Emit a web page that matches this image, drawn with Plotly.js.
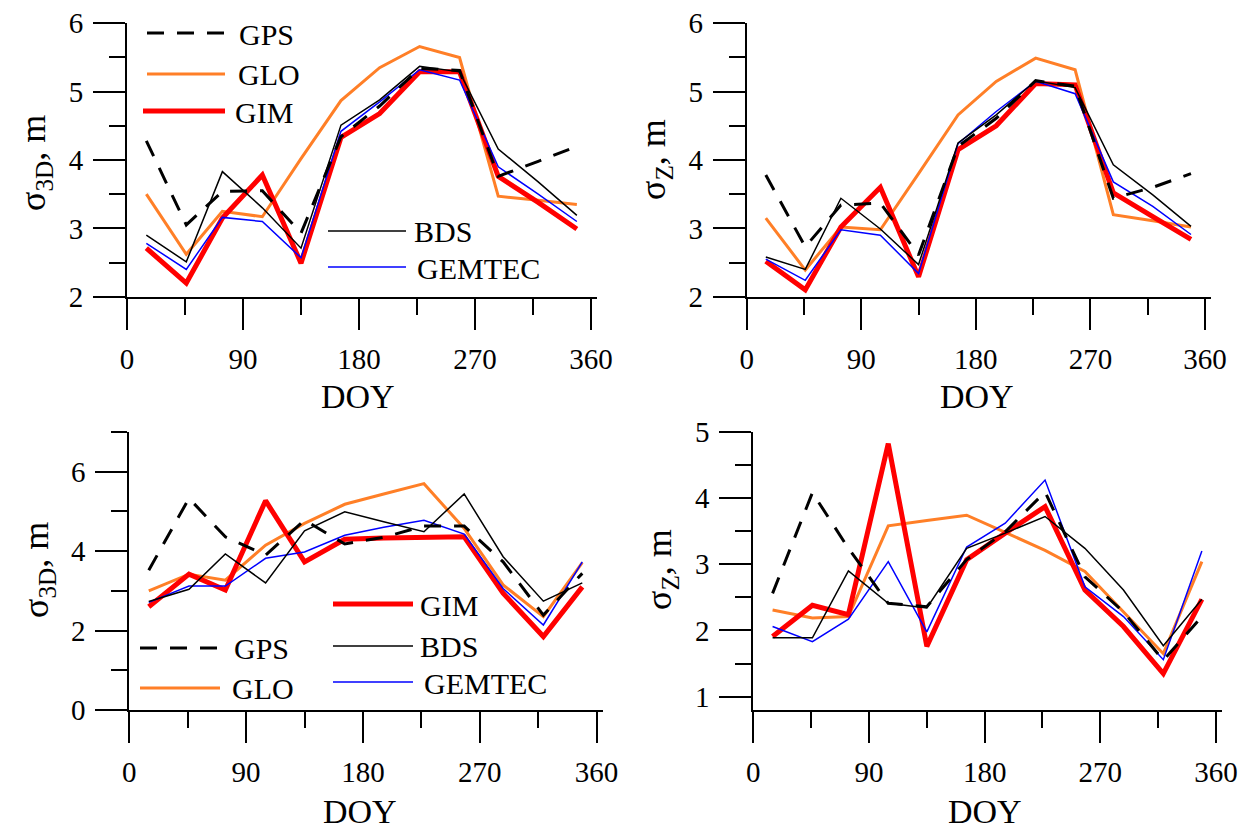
<!DOCTYPE html>
<html>
<head>
<meta charset="utf-8">
<script src="https://cdn.plot.ly/plotly-3.0.1.min.js"></script>
<style>html,body{margin:0;padding:0;background:#fff;}#chart{width:1249px;height:827px;}</style>
</head>
<body>
<div id="chart"></div>
<script>
// ---- data ----
const doy = [15, 46, 74, 105, 135, 166, 196, 227, 258, 288, 319, 349];
const seriesNames = ['GPS', 'GLO', 'GIM', 'BDS', 'GEMTEC'];

// panel A: sigma 3D (top-left)
const gps3dA = [4.28, 3.05, 3.54, 3.55, 2.93, 4.34, 4.79, 5.34, 5.31, 3.76, 3.98, 4.20];
const glo3dA = [3.50, 2.62, 3.25, 3.17, 4.02, 4.87, 5.35, 5.66, 5.50, 3.47, 3.41, 3.35];
const gim3dA = [2.71, 2.20, 3.15, 3.78, 2.49, 4.33, 4.68, 5.29, 5.29, 3.76, 3.38, 2.99];
const bds3dA = [2.90, 2.51, 3.83, 3.30, 2.71, 4.51, 4.88, 5.37, 5.29, 4.16, 3.68, 3.19];
const gem3dA = [2.78, 2.40, 3.16, 3.10, 2.57, 4.42, 4.85, 5.32, 5.17, 3.90, 3.50, 3.10];

// panel B: sigma Z (top-right)
const gpsZA = [3.78, 2.73, 3.34, 3.37, 2.61, 4.20, 4.61, 5.16, 5.08, 3.44, 3.60, 3.80];
const gloZA = [3.15, 2.39, 3.02, 2.98, 3.80, 4.66, 5.15, 5.49, 5.32, 3.20, 3.11, 3.02];
const gimZA = [2.52, 2.10, 3.02, 3.60, 2.29, 4.15, 4.50, 5.12, 5.10, 3.52, 3.17, 2.84];
const bdsZA = [2.58, 2.40, 3.44, 2.99, 2.47, 4.25, 4.66, 5.16, 5.06, 3.93, 3.49, 3.03];
const gemZA = [2.55, 2.24, 2.98, 2.90, 2.34, 4.24, 4.71, 5.15, 4.97, 3.68, 3.32, 2.91];

// panel C: sigma 3D (bottom-left)
const gps3dB = [3.52, 5.33, 4.36, 3.90, 4.78, 4.18, 4.35, 4.63, 4.63, 3.73, 2.39, 3.44];
const glo3dB = [3.00, 3.42, 3.27, 4.15, 4.70, 5.18, 5.44, 5.70, 4.57, 3.15, 2.35, 3.71];
const gim3dB = [2.60, 3.42, 3.02, 5.27, 3.73, 4.30, 4.33, 4.36, 4.36, 2.94, 1.85, 3.10];
const bds3dB = [2.73, 3.04, 3.93, 3.20, 4.51, 4.99, 4.74, 4.49, 5.44, 3.86, 2.74, 3.20];
const gem3dB = [2.71, 3.12, 3.12, 3.82, 3.98, 4.40, 4.60, 4.78, 4.43, 3.06, 2.14, 3.73];

// panel D: sigma Z (bottom-right)
const gpsZB = [2.56, 4.08, 3.24, 2.41, 2.36, 3.07, 3.49, 4.09, 2.81, 2.28, 1.55, 2.21];
const gloZB = [2.31, 2.19, 2.21, 3.58, 3.66, 3.74, 3.48, 3.21, 2.89, 2.28, 1.65, 3.04];
const gimZB = [1.91, 2.38, 2.24, 4.82, 1.76, 3.07, 3.47, 3.87, 2.61, 2.06, 1.35, 2.47];
const bdsZB = [1.89, 1.89, 2.90, 2.41, 2.34, 3.24, 3.47, 3.72, 3.24, 2.61, 1.77, 2.47];
const gemZB = [2.06, 1.83, 2.17, 3.04, 1.98, 3.26, 3.62, 4.27, 2.66, 2.21, 1.56, 3.20];

const xTickVals = [0, 90, 180, 270, 360];
const xMinorVals = [45, 135, 225, 315];
const yMajorTop = [2, 3, 4, 5, 6];
const yMinorTop = [2.5, 3.5, 4.5, 5.5];
const yMajorC = [0, 2, 4, 6];
const yMinorC = [1, 3, 5, 7];
const yMajorD = [1, 2, 3, 4, 5];
const yMinorD = [1.5, 2.5, 3.5, 4.5];

// ---- styles ----
const FONT = 'Liberation Serif';
const W = 1249, H = 827;
const styles = {
  GPS:    {color: '#000000', width: 3,   dash: '17px,13px'},
  GLO:    {color: '#FF7F27', width: 3,   dash: 'solid'},
  GIM:    {color: '#FF0000', width: 5,   dash: 'solid'},
  BDS:    {color: '#000000', width: 1.5, dash: 'solid'},
  GEMTEC: {color: '#0000FF', width: 1.5, dash: 'solid'}
};
const px = x => x / W;
const py = y => 1 - y / H;

const panels = [
  {ax: '',  data: {GPS: gps3dA, GLO: glo3dA, GIM: gim3dA, BDS: bds3dA, GEMTEC: gem3dA}},
  {ax: '2', data: {GPS: gpsZA, GLO: gloZA, GIM: gimZA, BDS: bdsZA, GEMTEC: gemZA}},
  {ax: '3', data: {GPS: gps3dB, GLO: glo3dB, GIM: gim3dB, BDS: bds3dB, GEMTEC: gem3dB}},
  {ax: '4', data: {GPS: gpsZB, GLO: gloZB, GIM: gimZB, BDS: bdsZB, GEMTEC: gemZB}}
];
const drawOrder = ['GLO', 'GIM', 'GEMTEC', 'BDS', 'GPS'];

const traces = [];
panels.forEach(p => {
  drawOrder.forEach(name => {
    traces.push({
      type: 'scatter', mode: 'lines', name: name,
      x: doy, y: p.data[name],
      xaxis: 'x' + p.ax, yaxis: 'y' + p.ax,
      line: {color: styles[name].color, width: styles[name].width, dash: styles[name].dash},
      showlegend: false, hoverinfo: 'skip'
    });
  });
});

function xAxis(domain, anchor) {
  return {
    domain: domain, anchor: anchor, range: [0, 365],
    showline: true, linecolor: 'black', linewidth: 2,
    ticks: 'outside', tickmode: 'array', tickvals: xTickVals,
    ticklen: 31, tickwidth: 2, tickcolor: 'black',
    ticklabelstandoff: 4,
    minor: {tickmode: 'array', tickvals: xMinorVals, ticks: 'outside', ticklen: 16, tickwidth: 2, tickcolor: 'black', showgrid: false},
    showgrid: false, zeroline: false, fixedrange: true,
    tickfont: {family: FONT, size: 29, color: 'black'}
  };
}
function yAxis(domain, anchor, range, major, minor) {
  return {
    domain: domain, anchor: anchor, range: range,
    showline: true, linecolor: 'black', linewidth: 2,
    ticks: 'outside', tickmode: 'array', tickvals: major,
    ticklen: 32, tickwidth: 2, tickcolor: 'black',
    ticklabelstandoff: 4,
    minor: {tickmode: 'array', tickvals: minor, ticks: 'outside', ticklen: 16, tickwidth: 2, tickcolor: 'black', showgrid: false},
    showgrid: false, zeroline: false, fixedrange: true,
    tickfont: {family: FONT, size: 29, color: 'black'}
  };
}

const layout = {
  width: W, height: H,
  margin: {l: 0, r: 0, t: 0, b: 0},
  paper_bgcolor: 'white', plot_bgcolor: 'white',
  showlegend: false,
  font: {family: FONT, color: 'black'},
  xaxis:  xAxis([px(127), px(127 + 365 * 1.289)], 'y'),
  yaxis:  yAxis([py(296.7), py(23.3)], 'x', [2, 6], yMajorTop, yMinorTop),
  xaxis2: xAxis([px(746.7), px(746.7 + 365 * 1.273)], 'y2'),
  yaxis2: yAxis([py(296.7), py(23.3)], 'x2', [2, 6], yMajorTop, yMinorTop),
  xaxis3: xAxis([px(129.3), px(129.3 + 365 * 1.298)], 'y3'),
  yaxis3: yAxis([py(710), py(432)], 'x3', [0, 7], yMajorC, yMinorC),
  xaxis4: xAxis([px(753.3), px(753.3 + 365 * 1.2853)], 'y4'),
  yaxis4: yAxis([py(710), py(431.7)], 'x4', [0.8, 5], yMajorD, yMinorD),
  annotations: [],
  shapes: []
};

// axis titles
const titleFont = {family: FONT, size: 36, color: 'black'};
[[358, 397], [977, 397], [360, 811], [985, 811]].forEach(([x, y]) => {
  layout.annotations.push({text: 'DOY', xref: 'paper', yref: 'paper', x: px(x), y: py(y),
    xanchor: 'center', yanchor: 'middle', showarrow: false, font: {family: FONT, size: 34, color: 'black'}});
});
[['σ<sub>3D</sub>, m', 35, 163], ['σ<sub>Z</sub>, m', 655, 160], ['σ<sub>3D</sub>, m', 38, 570], ['σ<sub>Z</sub>, m', 661, 569]].forEach(([t, x, y]) => {
  layout.annotations.push({text: t, xref: 'paper', yref: 'paper', x: px(x), y: py(y), textangle: -90,
    xanchor: 'center', yanchor: 'middle', showarrow: false, font: titleFont});
});

// legends (line sample + label)
const legFont = {family: FONT, size: 30, color: 'black'};
const legendItems = [
  ['GPS', 147, 225, 33, 237, 35],
  ['GLO', 147, 225, 74, 236, 75],
  ['GIM', 143, 225, 111, 233, 112],
  ['BDS', 328, 406, 231, 412, 231],
  ['GEMTEC', 328, 406, 267, 415, 268],
  ['GIM', 333, 413, 604, 418, 605],
  ['BDS', 333, 413, 646, 418, 646],
  ['GEMTEC', 333, 413, 682, 422, 683],
  ['GPS', 140, 220, 648, 232, 648],
  ['GLO', 140, 220, 688, 230, 688]
];
legendItems.forEach(([name, x0, x1, yl, xt, yt]) => {
  const s = styles[name];
  layout.shapes.push({type: 'line', xref: 'paper', yref: 'paper', x0: px(x0), x1: px(x1), y0: py(yl), y1: py(yl),
    line: {color: s.color, width: s.width, dash: s.dash}});
  layout.annotations.push({text: name, xref: 'paper', yref: 'paper', x: px(xt), y: py(yt),
    xanchor: 'left', yanchor: 'middle', showarrow: false, font: legFont});
});

Plotly.newPlot('chart', traces, layout, {staticPlot: true, displayModeBar: false});
</script>
</body>
</html>
